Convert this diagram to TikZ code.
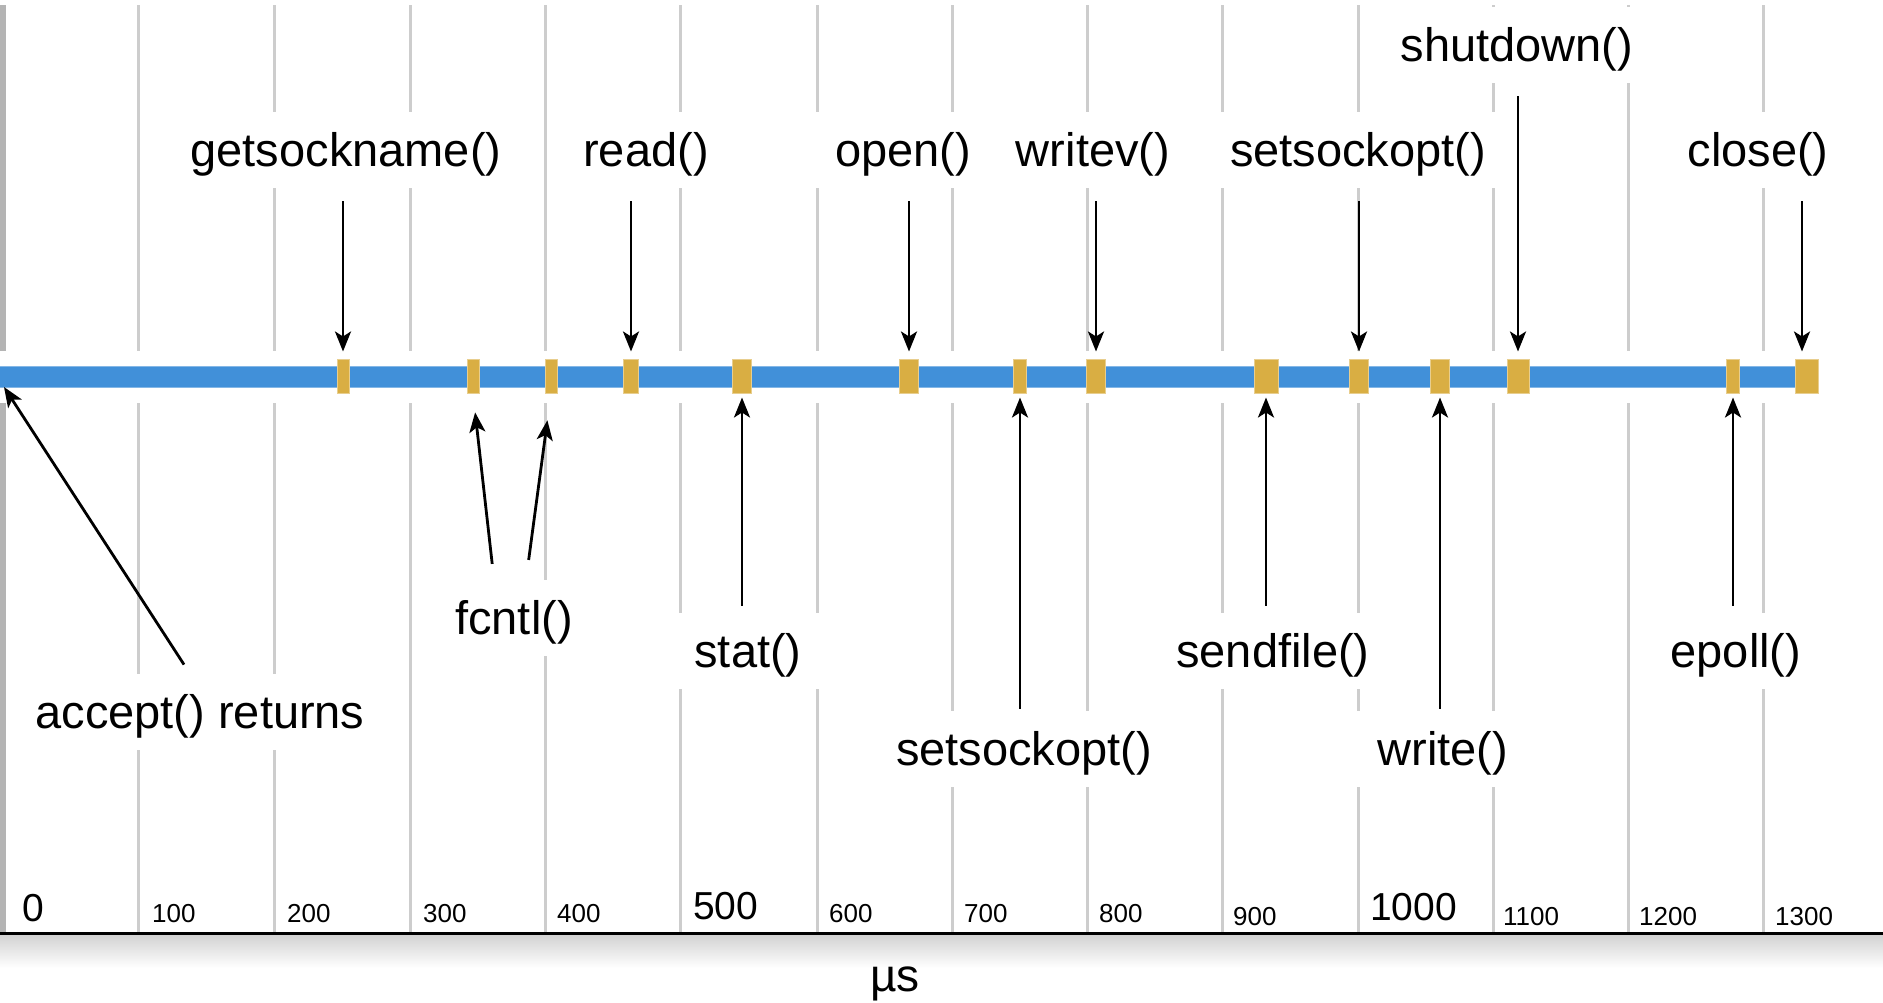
\documentclass[tikz,border=0pt]{standalone}
\usepackage{fontspec}
\setmainfont{Liberation Sans}
\usetikzlibrary{arrows.meta}
\definecolor{barblue}{HTML}{4190D9}
\definecolor{evtgold}{HTML}{D9AE43}
\definecolor{gridgray}{HTML}{CDCDCD}
\tikzset{
  call/.style={fill=white, inner xsep=22pt, inner ysep=0pt, minimum height=76pt,
    font=\fontsize{47}{56}\selectfont, text height=39pt, text depth=6pt},
  evt/.style={fill=evtgold, draw=evtgold!60!white, line width=1pt, inner sep=0pt, minimum height=34pt},
  ptr/.style={-{Stealth[length=20pt,width=16pt,inset=5pt]}, line width=2.8pt},
  tsmall/.style={anchor=base west, inner sep=0pt, font=\fontsize{26}{30}\selectfont},
  tbig/.style={anchor=base west, inner sep=0pt, font=\fontsize{39}{44}\selectfont},
  gline/.style={draw=gridgray, line width=3pt}
}
\begin{document}
\begin{tikzpicture}[x=1pt,y=-1pt]
\useasboundingbox (0,0) rectangle (1883,1002);
% grid
\draw[gline, line width=6pt, draw=gridgray!88!black] (3,5) -- (3,933);
\draw[gline] (138,5) -- (138,933);
\draw[gline] (274,5) -- (274,933);
\draw[gline] (410,5) -- (410,933);
\draw[gline] (545,5) -- (545,933);
\draw[gline] (680,5) -- (680,933);
\draw[gline] (817,5) -- (817,933);
\draw[gline] (952,5) -- (952,933);
\draw[gline] (1087,5) -- (1087,933);
\draw[gline] (1222,5) -- (1222,933);
\draw[gline] (1358,5) -- (1358,933);
\draw[gline] (1493,5) -- (1493,933);
\draw[gline] (1628,5) -- (1628,933);
\draw[gline] (1763,5) -- (1763,933);
\fill[white] (0,351) rectangle (1883,403);
% axis
\shade[top color=black!18, bottom color=white] (0,934) rectangle (1883,968);
\draw[line width=3pt] (0,933) -- (1883,933);
\node[tbig] (t0l) at (22,921) {0};
\node[tsmall] (t1l) at (152,922) {100};
\node[tsmall] (t2l) at (287,922) {200};
\node[tsmall] (t3l) at (423,922) {300};
\node[tsmall] (t4l) at (557,922) {400};
\node[tbig] (t5l) at (693,919) {500};
\node[tsmall] (t6l) at (829,922) {600};
\node[tsmall] (t7l) at (964,922) {700};
\node[tsmall] (t8l) at (1099,922) {800};
\node[tsmall] (t9l) at (1233,925) {900};
\node[tbig] (t10l) at (1370,920) {1000};
\node[tsmall] (t11l) at (1503,925) {1100};
\node[tsmall] (t12l) at (1639,925) {1200};
\node[tsmall] (t13l) at (1775,925) {1300};
\node[font=\fontsize{46}{50}\selectfont] (unit) at (895,984) {µs};
% timeline
\fill[barblue] (0,366) rectangle (1805,387);
\draw[barblue!65!white, line width=1pt] (0,366) -- (1805,366) (0,387) -- (1805,387);
\coordinate (start) at (4,387);
\node[evt, minimum width=12pt] (gsn) at (343,376) {};
\node[evt, minimum width=12pt] (fc1) at (473,376) {};
\node[evt, minimum width=12pt] (fc2) at (551,376) {};
\node[evt, minimum width=15pt] (rd) at (631,376) {};
\node[evt, minimum width=19pt] (st) at (742,376) {};
\node[evt, minimum width=19pt] (op) at (909,376) {};
\node[evt, minimum width=13pt] (so1) at (1020,376) {};
\node[evt, minimum width=19pt] (wv) at (1096,376) {};
\node[evt, minimum width=24pt] (sf) at (1266,376) {};
\node[evt, minimum width=19pt] (so2) at (1359,376) {};
\node[evt, minimum width=19pt] (wr) at (1440,376) {};
\node[evt, minimum width=22pt] (sd) at (1518,376) {};
\node[evt, minimum width=13pt] (ep) at (1733,376) {};
\node[evt, minimum width=23pt] (cl) at (1807,376) {};
% calls above
\node[call] (gsnl) at (346,150) {getsockname()};
\node[call] (rdl) at (646,150) {read()};
\node[call] (opl) at (903,150) {open()};
\node[call] (wvl) at (1093,150) {writev()};
\node[call] (so2l) at (1358,150) {setsockopt()};
\node[call] (sdl) at (1517,45) {shutdown()};
\node[call] (cll) at (1758,150) {close()};
% calls below
\node[call] (fcl) at (514,618) {fcntl()};
\node[call] (stl) at (748,651) {stat()};
\node[call] (sfl) at (1273,651) {sendfile()};
\node[call] (epl) at (1736,651) {epoll()};
\node[call] (accl) at (200,712) {accept() returns};
\node[call] (so1l) at (1024,749) {setsockopt()};
\node[call] (wrl) at (1443,749) {write()};
% pointers
\draw[ptr, shorten <=13pt, shorten >=7pt] (gsnl.south -| gsn) -- (gsn.north);
\draw[ptr, shorten <=13pt, shorten >=7pt] (rdl.south -| rd) -- (rd.north);
\draw[ptr, shorten <=13pt, shorten >=7pt] (opl.south -| op) -- (op.north);
\draw[ptr, shorten <=13pt, shorten >=7pt] (wvl.south -| wv) -- (wv.north);
\draw[ptr, shorten <=13pt, shorten >=7pt] (so2l.south -| so2) -- (so2.north);
\draw[ptr, shorten <=13pt, shorten >=7pt] (sdl.south -| sd) -- (sd.north);
\draw[ptr, shorten <=13pt, shorten >=7pt] ([xshift=-5pt]cll.south -| cl) -- ([xshift=-5pt]cl.north);
\draw[ptr, shorten <=16pt, shorten >=19pt] ([xshift=-20pt]fcl.north) -- (fc1.south);
\draw[ptr, shorten <=20pt, shorten >=27pt] ([xshift=12pt]fcl.north) -- (fc2.south);
\draw[ptr, shorten <=7pt, shorten >=4pt] (stl.north -| st) -- (st.south);
\draw[ptr, shorten <=7pt, shorten >=4pt] (sfl.north -| sf) -- (sf.south);
\draw[ptr, shorten <=7pt, shorten >=4pt] (epl.north -| ep) -- (ep.south);
\draw[ptr, shorten <=2pt, shorten >=4pt] (so1l.north -| so1) -- (so1.south);
\draw[ptr, shorten <=2pt, shorten >=4pt] (wrl.north -| wr) -- (wr.south);
\draw[ptr, shorten <=11pt] ([xshift=-10pt]accl.north) -- (start);
\end{tikzpicture}
\end{document}
